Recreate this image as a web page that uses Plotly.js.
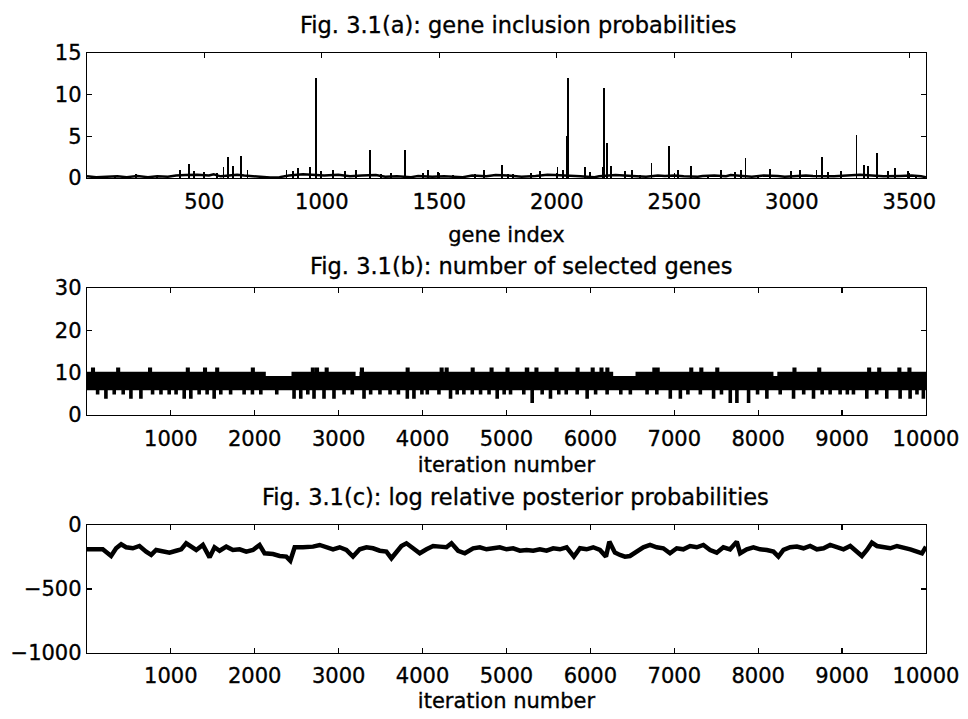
<!DOCTYPE html>
<html>
<head>
<meta charset="utf-8">
<script src="https://cdn.plot.ly/plotly-3.0.1.min.js"></script>
<style>html,body{margin:0;padding:0;background:#fff}#chart{width:968px;height:719px}
#chart text{stroke:#000;stroke-width:0.35px}</style>
</head>
<body>
<div id="chart"></div>
<script>
// ---------- Fig. 3.1(a): gene inclusion probabilities ----------
const spikeGene = [120,211,300,396,434,455,498,556,582,601,624,655,684,760,850,878,899,949,974,998,
  1048,1098,1145,1204,1251,1296,1353,1431,1452,1495,1560,1651,1691,1765,1793,1814,1892,1927,2003,2027,
  2044,2048,2119,2140,2196,2201,2215,2230,2289,2320,2353,2403,2478,2516,2570,2644,2698,2757,2783,2803,
  2856,2906,2998,3034,3105,3129,3154,3211,3275,3308,3325,3364,3410,3438,3495,3530];
const spikeProb = [0.3,0.45,0.3,1.0,1.7,0.9,0.7,0.6,1.3,2.5,1.5,2.6,1.0,0.3,1.0,0.8,1.2,1.3,12.0,0.8,
  1.0,0.8,1.0,3.4,0.5,0.6,3.4,0.6,1.0,0.7,0.4,0.5,1.0,1.6,0.5,0.5,0.6,0.8,1.3,1.0,
  5.0,12.0,1.3,0.7,1.3,10.8,4.2,1.4,0.9,1.0,0.4,1.8,3.9,1.0,1.5,0.4,1.0,0.7,1.0,2.4,
  0.4,1.1,0.8,1.0,1.0,2.5,0.7,0.8,5.2,1.6,1.5,3.0,0.9,1.2,0.8,0.4];
const baseGene = [1,40,85,130,170,215,260,300,345,380,420,470,520,540,570,610,640,670,700,740,
  780,820,860,920,960,1010,1070,1120,1170,1230,1270,1320,1380,1410,1470,1520,1600,1640,1700,1740,
  1790,1850,1910,1960,1990,2070,2100,2160,2180,2250,2270,2300,2340,2380,2430,2460,2500,2540,2600,2620,
  2670,2720,2740,2830,2880,2940,2970,3060,3090,3180,3240,3290,3340,3390,3460,3510,3550,3571];
const baseProb = [0.2,0.1,0.15,0.2,0.1,0.25,0.1,0.2,0.15,0.3,0.35,0.4,0.3,0.45,0.2,0.35,0.4,0.3,0.25,0.1,
  0.05,0.1,0.3,0.45,0.35,0.3,0.4,0.2,0.3,0.35,0.15,0.2,0.1,0.25,0.15,0.2,0.1,0.3,0.2,0.35,
  0.3,0.15,0.25,0.4,0.35,0.3,0.2,0.1,0.2,0.35,0.3,0.25,0.2,0.15,0.3,0.25,0.3,0.2,0.15,0.25,
  0.3,0.2,0.35,0.15,0.3,0.25,0.15,0.3,0.25,0.2,0.35,0.4,0.3,0.2,0.25,0.3,0.2,0.1];

// ---------- Fig. 3.1(b): number of selected genes (max / min envelope, [iteration, count]) ----------
const upperEnvelope = [[0,10],[60,11],[85,10],[360,11],[385,10],[740,11],[765,10],[1190,11],[1215,10],[1395,11],[1420,10],
  [1540,11],[1565,10],[1965,11],[1990,10],[2120,9],[2450,10],[2680,11],[2705,10],[2730,11],[2755,10],[2845,11],[2870,10],
  [3190,9],[3260,10],[3265,11],[3290,10],[3810,11],[3835,10],[4215,11],[4240,10],[4275,11],[4300,10],[4585,11],[4610,10],
  [4810,11],[4835,10],[5000,11],[5025,10],[5230,11],[5260,10],[5345,11],[5370,10],[5585,11],[5610,10],[5835,11],[5860,10],
  [6015,11],[6040,10],[6120,11],[6145,10],[6190,11],[6215,10],[6260,9],[6550,10],[6750,11],[6775,10],[6790,11],[6815,10],
  [7190,11],[7215,10],[7310,11],[7335,10],[7500,11],[7525,10],[8170,9],[8240,10],[8420,11],[8445,10],[8715,11],[8740,10],
  [9310,11],[9335,10],[9430,11],[9455,10],[9670,11],[9695,10],[9790,11],[9815,10],[10000,10]];
const lowerEnvelope = [[0,6],[115,5],[140,6],[214,4],[239,6],[313,5],[338,6],[420,5],[445,6],[512,4],[537,6],[631,4],[656,6],
  [770,5],[795,6],[870,5],[895,6],[968,5],[993,6],[1050,5],[1075,6],[1147,4],[1172,6],[1226,4],[1251,6],[1325,5],[1350,6],
  [1420,5],[1445,6],[1504,4],[1529,6],[1583,5],[1608,6],[1700,5],[1725,6],[1861,5],[1886,6],[1960,5],[1985,6],[2060,5],[2085,6],
  [2250,5],[2275,6],[2456,4],[2481,6],[2536,4],[2561,6],[2620,5],[2645,6],[2694,4],[2719,6],[2813,4],[2838,6],[2932,4],[2957,6],
  [3052,5],[3077,6],[3150,5],[3175,6],[3290,4],[3315,6],[3369,5],[3394,6],[3480,5],[3505,6],[3600,5],[3625,6],[3700,5],[3725,6],
  [3806,4],[3831,6],[3885,4],[3910,6],[3980,5],[4005,6],[4044,5],[4069,6],[4183,5],[4208,6],[4321,4],[4346,6],[4400,5],[4425,6],
  [4480,5],[4505,6],[4580,5],[4605,6],[4679,5],[4704,6],[4780,5],[4805,6],[4877,4],[4902,6],[4960,5],[4985,6],[5036,5],[5061,6],
  [5194,5],[5219,6],[5294,3],[5319,6],[5413,5],[5438,6],[5512,4],[5537,6],[5611,5],[5636,6],[5700,5],[5725,6],[5830,5],[5855,6],
  [5949,4],[5974,6],[6050,5],[6075,6],[6187,5],[6212,6],[6350,5],[6375,6],[6464,5],[6489,6],[6663,5],[6688,6],[6780,5],[6805,6],
  [6940,4],[6965,6],[7060,4],[7085,6],[7150,5],[7175,6],[7298,5],[7323,6],[7456,4],[7481,6],[7550,5],[7575,6],[7655,3],[7680,6],
  [7734,3],[7759,6],[7873,3],[7898,6],[7980,5],[8005,6],[8091,4],[8116,6],[8250,5],[8275,6],[8409,4],[8434,6],[8530,5],[8555,6],
  [8647,4],[8672,6],[8750,5],[8775,6],[8845,5],[8870,6],[8964,5],[8989,6],[9050,5],[9075,6],[9123,5],[9148,6],[9282,4],[9307,6],
  [9400,5],[9425,6],[9520,4],[9545,6],[9679,4],[9704,6],[9798,4],[9823,6],[9880,5],[9905,6],[9956,4],[9981,6],[10000,6]];

// ---------- Fig. 3.1(c): log relative posterior probabilities ----------
const iterC = [1,109,189,288,348,408,467,547,626,706,766,825,905,984,1064,1124,1183,1243,1303,1382,
  1462,1521,1581,1661,1740,1820,1899,1979,2058,2118,2217,2297,2376,2424,2476,2575,2694,2774,2853,2933,
  3012,3092,3171,3251,3331,3410,3490,3569,3629,3689,3748,3808,3887,3967,4047,4126,4206,4285,4345,4424,
  4504,4603,4683,4762,4842,
  4921,5001,5080,5160,5240,5319,5398,5478,5557,5637,5717,5804,5876,5955,6034,6114,6186,6226,6293,6353,
  6412,6472,6552,6631,6711,6790,6869,6949,7029,7108,7188,7268,7347,7427,7506,7585,7665,7745,7785,7864,
  7943,8023,8103,8182,8241,8301,8381,8461,8540,8619,8699,8779,8858,8938,9017,9097,9177,9236,9296,9355,
  9415,9494,9574,9654,9733,9813,9892,9952,10000];
const logPost = [-190,-195,-190,-242,-182,-151,-174,-182,-164,-208,-234,-195,-208,-216,-201,-190,-143,-169,-195,-156,
  -253,-174,-201,-169,-195,-190,-208,-195,-156,-221,-227,-242,-247,-279,-174,-174,-169,-156,-174,-190,
  -174,-195,-247,-190,-174,-182,-201,-208,-260,-208,-164,-143,-182,-221,-190,-164,-169,-174,-143,-201,
  -221,-182,-174,-190,-182,
  -174,-190,-182,-201,-195,-201,-190,-201,-182,-190,-174,-247,-182,-190,-174,-195,-247,-130,-216,-234,
  -247,-242,-208,-174,-156,-174,-182,-221,-182,-190,-164,-174,-156,-195,-216,-174,-190,-130,-221,-190,
  -174,-190,-195,-208,-247,-195,-174,-169,-182,-164,-190,-182,-156,-174,-190,-164,-208,-242,-195,-138,
  -164,-174,-182,-164,-174,-190,-208,-221,-169];

// ---------- tick labels ----------
const geneTicks = [500,1000,1500,2000,2500,3000,3500];
const iterTicks = [1000,2000,3000,4000,5000,6000,7000,8000,9000,10000];
const iterTickText = ['1000','2000','3000','4000','5000','6000','7000','8000','9000','10000'];
const probTicks = [0,5,10,15];
const countTicks = [0,10,20,30];
const postTicks = [-1000,-500,0];

const FONT = 'DejaVu Sans';
const traces = [
  {x: baseGene, y: baseProb, type: 'scatter', mode: 'lines', line: {color: '#000', width: 2.5},
   xaxis: 'x', yaxis: 'y', hoverinfo: 'skip'},
  {x: spikeGene, y: spikeProb, type: 'bar', width: 8, marker: {color: '#000', line: {width: 0}},
   xaxis: 'x', yaxis: 'y'},
  {x: lowerEnvelope.map(p => p[0]), y: lowerEnvelope.map(p => p[1]), type: 'scatter', mode: 'lines',
   line: {color: '#000', width: 1.5, shape: 'hv'}, xaxis: 'x2', yaxis: 'y2'},
  {x: upperEnvelope.map(p => p[0]), y: upperEnvelope.map(p => p[1]), type: 'scatter', mode: 'lines',
   line: {color: '#000', width: 2, shape: 'hv'}, fill: 'tonexty', fillcolor: '#000', xaxis: 'x2', yaxis: 'y2'},
  {x: iterC, y: logPost, type: 'scatter', mode: 'lines', line: {color: '#000', width: 4.5},
   xaxis: 'x3', yaxis: 'y3'}
];

const tickFont = {family: FONT, size: 21, color: '#000'};
const axBase = {
  showgrid: false, zeroline: false, showline: true, linecolor: '#000', linewidth: 1.2,
  mirror: 'ticks', ticks: 'inside', ticklen: 5, tickcolor: '#000', tickwidth: 1.2,
  tickfont: tickFont, automargin: false, fixedrange: true
};
const xDom = [87/968, 926/968];
function ax(extra) { return Object.assign({}, axBase, extra); }

const titleFont = {family: FONT, size: 22.5, color: '#000'};
const axTitleFont = {family: FONT, size: 21, color: '#000'};
const layout = {
  width: 968, height: 719,
  margin: {l: 0, r: 0, t: 0, b: 0},
  paper_bgcolor: '#fff', plot_bgcolor: '#fff',
  showlegend: false, bargap: 0,
  font: {family: FONT, color: '#000'},
  xaxis: ax({domain: xDom, anchor: 'y', range: [1, 3571], tickvals: geneTicks, ticklabelstandoff: 5,
    title: {text: 'gene index', font: axTitleFont, standoff: 13}}),
  yaxis: ax({domain: [1 - 178/719, 1 - 53/719], anchor: 'x', range: [0, 15], tickvals: probTicks}),
  xaxis2: ax({domain: xDom, anchor: 'y2', range: [1, 10000], tickvals: iterTicks, ticktext: iterTickText,
    ticklabelstandoff: 5, title: {text: 'iteration number', font: axTitleFont, standoff: 6}}),
  yaxis2: ax({domain: [1 - 415/719, 1 - 288/719], anchor: 'x2', range: [0, 30], tickvals: countTicks}),
  xaxis3: ax({domain: xDom, anchor: 'y3', range: [1, 10000], tickvals: iterTicks, ticktext: iterTickText,
    ticklabelstandoff: 4, title: {text: 'iteration number', font: axTitleFont, standoff: 5}}),
  yaxis3: ax({domain: [1 - 653/719, 1 - 525/719], anchor: 'x3', range: [-1000, 0], tickvals: postTicks}),
  annotations: [
    {text: 'Fig. 3.1(a): gene inclusion probabilities', xref: 'paper', yref: 'paper',
     x: 518/968, y: 1 - 25/719, xanchor: 'center', yanchor: 'middle', showarrow: false, font: titleFont},
    {text: 'Fig. 3.1(b): number of selected genes', xref: 'paper', yref: 'paper',
     x: 521/968, y: 1 - 266/719, xanchor: 'center', yanchor: 'middle', showarrow: false, font: titleFont},
    {text: 'Fig. 3.1(c): log relative posterior probabilities', xref: 'paper', yref: 'paper',
     x: 515/968, y: 1 - 497/719, xanchor: 'center', yanchor: 'middle', showarrow: false, font: titleFont}
  ]
};

Plotly.newPlot('chart', traces, layout, {displayModeBar: false, staticPlot: true});
</script>
</body>
</html>
